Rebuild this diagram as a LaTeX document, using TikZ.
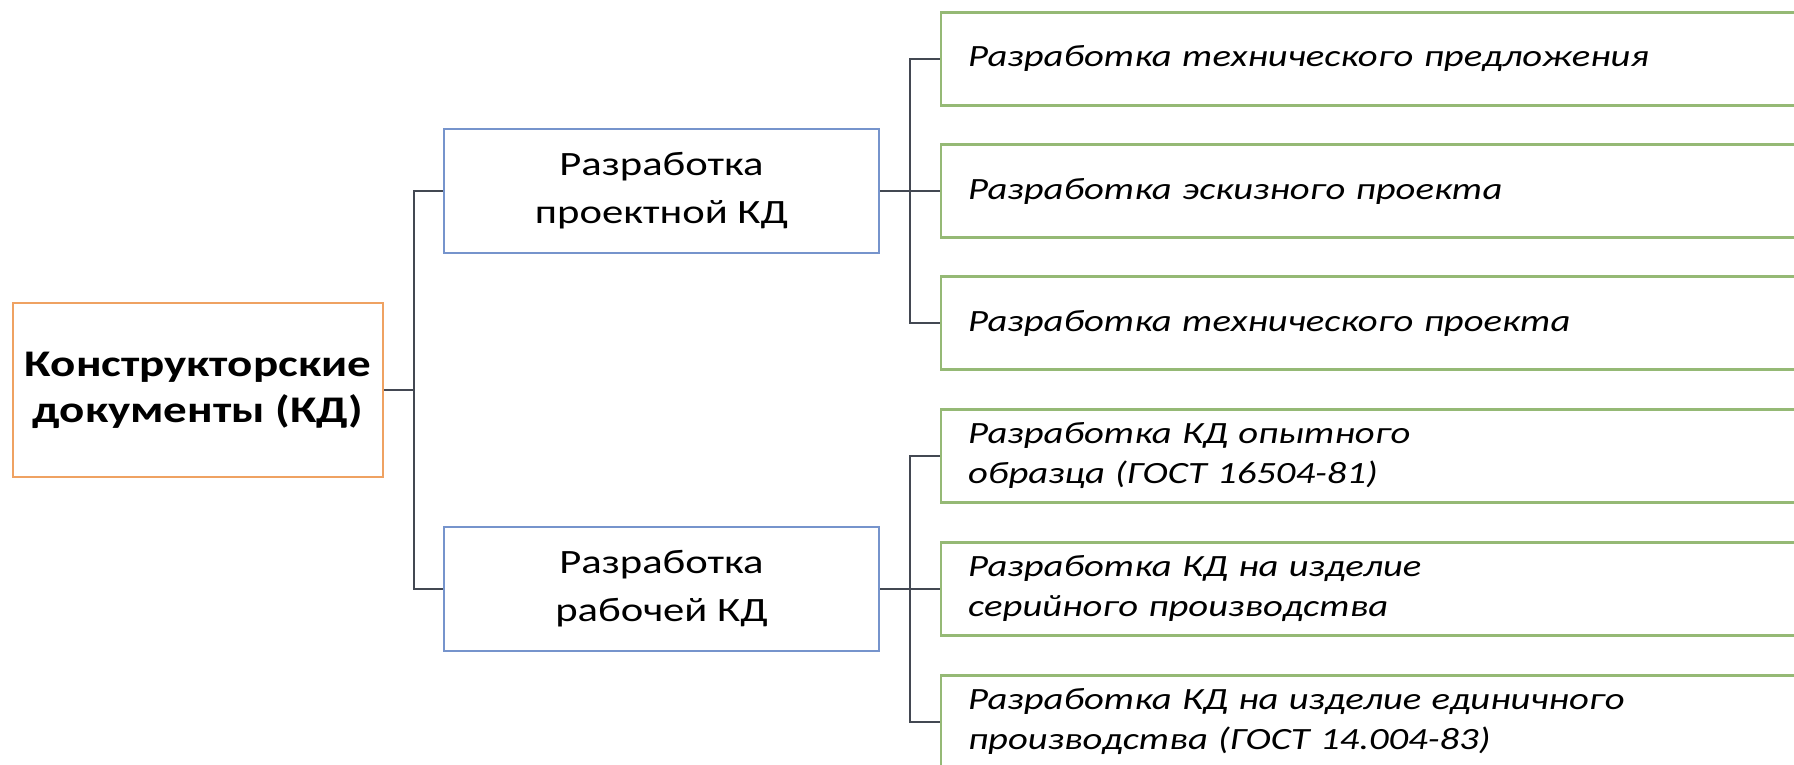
\documentclass[tikz,border=0pt]{standalone}
\usepackage{fontspec}
\setmainfont{Carlito}[FakeStretch=1.25]
\usepackage{xcolor}

\definecolor{lineGray}{HTML}{434852}
\definecolor{rootOrange}{HTML}{EFA262}
\definecolor{midBlue}{HTML}{7694CC}
\definecolor{leafGreen}{HTML}{95B975}

\tikzset{
    rootbox/.style={draw=rootOrange, line width=0.6pt, minimum width=37mm, minimum height=17.4mm,
        align=center, font=\fontsize{10.7}{13.1}\selectfont\bfseries},
    midbox/.style={draw=midBlue, line width=0.6pt, minimum width=43.5mm, minimum height=12.4mm,
        align=center, font=\fontsize{9.7}{13.7}\selectfont},
    leafbox/.style={draw=leafGreen, line width=0.6pt, anchor=west, minimum width=89mm, minimum height=9.3mm,
        text width=83.6mm, inner xsep=2.7mm, align=left, font=\fontsize{8.8}{11.4}\selectfont\itshape},
    link/.style={draw=lineGray, line width=0.8pt}
}

\begin{document}
\begin{tikzpicture}[x=0.1mm, y=-0.1mm]
        % Page
        \fill[white] (0,0) rectangle (1794,765);
        \useasboundingbox (0,0) rectangle (1794,765);
        \clip (0,0) rectangle (1794,765);

        % Root and branches
        \node[rootbox] (root) at (198,390) {Конструкторские\\документы (КД)};
        \node[midbox] (proj) at (661.5,191) {Разработка\\проектной КД};
        \node[midbox] (work) at (661.5,589) {Разработка\\рабочей КД};

        % Leaves
        \foreach \i/\yy/\txt in {1/59/{Разработка технического предложения},
                2/191/{Разработка эскизного проекта},
                3/323/{Разработка технического проекта},
                4/456/{Разработка КД опытного\\образца (ГОСТ 16504-81)},
                5/589/{Разработка КД на изделие\\серийного производства},
                6/722/{Разработка КД на изделие единичного\\производства (ГОСТ 14.004-83)}}
            \node[leafbox] (leaf\i) at (940,\yy) {\txt};

        % Connectors
        \draw[link] (root.east) -- ++(30,0) |- (proj.west);
        \draw[link] (root.east) -- ++(30,0) |- (work.west);
        \draw[link] (proj.east) -- (leaf2.west);
        \draw[link] (proj.east) -- ++(30,0) |- (leaf1.west);
        \draw[link] (proj.east) -- ++(30,0) |- (leaf3.west);
        \draw[link] (work.east) -- (leaf5.west);
        \draw[link] (work.east) -- ++(30,0) |- (leaf4.west);
        \draw[link] (work.east) -- ++(30,0) |- (leaf6.west);
    \end{tikzpicture}
\end{document}
